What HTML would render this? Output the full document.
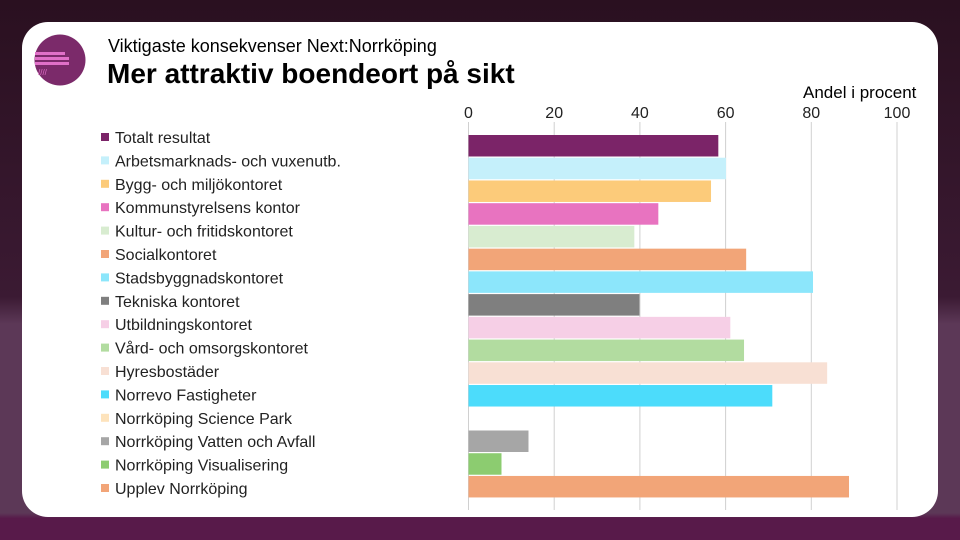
<!DOCTYPE html>
<html><head><meta charset="utf-8"><style>
body{margin:0;width:960px;height:540px;overflow:hidden;font-family:"Liberation Sans",sans-serif;position:relative;background:linear-gradient(180deg,#2a1020 0%,#3b1a33 55%,#5c3857 60%,#5c3857 95%,#581a4a 96%);}
#card{position:absolute;left:22px;top:22px;width:916px;height:495px;background:#fff;border-radius:26px;}
.t{position:absolute;white-space:nowrap;color:#000}
</style></head><body>
<div id="card"></div>
<svg style="position:absolute;left:33px;top:33px" width="54" height="54">
<circle cx="27" cy="27" r="25.5" fill="#7b2a6a"/>
<rect x="2" y="19" width="30" height="3" fill="#e070c8"/><rect x="2" y="24" width="34" height="3" fill="#e070c8"/><rect x="2" y="29" width="34" height="3" fill="#e070c8"/>
<text x="5" y="42" font-size="8" fill="#e070c8" font-family="Liberation Sans">////</text></svg>
<div class="t" style="left:108px;top:36px;font-size:18px">Viktigaste konsekvenser Next:Norrköping</div>
<div class="t" style="left:107px;top:58px;font-size:28px;font-weight:bold">Mer attraktiv boendeort på sikt</div>
<div class="t" style="left:803px;top:83px;font-size:17px">Andel i procent</div>
<svg id="chart" width="960" height="540" style="position:absolute;left:0;top:0"></svg>
<script>
const categories=["Totalt resultat","Arbetsmarknads- och vuxenutb.","Bygg- och miljökontoret","Kommunstyrelsens kontor","Kultur- och fritidskontoret","Socialkontoret","Stadsbyggnadskontoret","Tekniska kontoret","Utbildningskontoret","Vård- och omsorgskontoret","Hyresbostäder","Norrevo Fastigheter","Norrköping Science Park","Norrköping Vatten och Avfall","Norrköping Visualisering","Upplev Norrköping"];
const values=[58.3,60.1,56.6,44.3,38.7,64.8,80.4,39.9,61.1,64.3,83.7,70.9,0,14,7.7,88.8];
const colors=["#7b2468","#c5f0fb","#fccb7a","#e873c0","#d8ecd0","#f2a578","#8ce6fb","#7f7f7f","#f6cfe6","#b2dca0","#f8e0d4","#4cdcfb","#fde3bc","#a6a6a6","#8ccc70","#f2a578"];
const ticks=[0,20,40,60,80,100];
const NS="http://www.w3.org/2000/svg",svg=document.getElementById('chart');
const x=v=>468.5+v*4.285, y=i=>135+i*22.73;
function mk(t,a){const e=document.createElementNS(NS,t);for(const k in a)e.setAttribute(k,a[k]);svg.appendChild(e);return e;}
ticks.forEach(t=>{
 const l=mk('line',{x1:x(t),x2:x(t),y1:122,y2:510,stroke:'#d0d0d0','stroke-width':1});
 
 
 const tx=mk('text',{x:x(t),y:118,'text-anchor':'middle','font-size':16,fill:'#222','font-family':'Liberation Sans'});
 tx.textContent=t;
 
 
});
values.forEach((v,i)=>{
 const r=mk('rect',{x:x(0),y:y(i),width:x(v)-x(0),height:21.5,fill:colors[i]});
 
 
 const s=mk('rect',{x:101,y:133+i*23.4,width:8,height:8,fill:colors[i]});
 
 
 const t=mk('text',{x:115,y:143+i*23.4,'font-size':16,fill:'#222','font-family':'Liberation Sans'});
 t.textContent=categories[i];
 
 
});
</script>
</body></html>
